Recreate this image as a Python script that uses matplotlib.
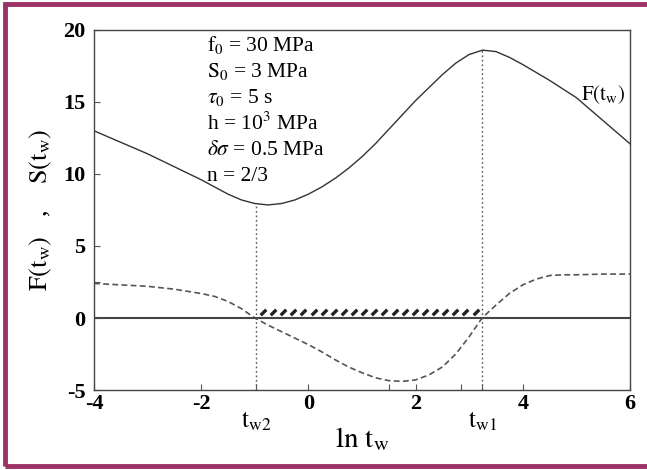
import numpy as np
import matplotlib
matplotlib.use("Agg")
import matplotlib.pyplot as plt
from matplotlib.patches import Rectangle

plt.rcParams['font.family'] = ['Liberation Serif', 'DejaVu Serif']
plt.rcParams['mathtext.fontset'] = 'stix'
plt.rcParams['axes.unicode_minus'] = False

# ---- data ----
x_F = [-4, -3.5, -3, -2.5, -2, -1.75, -1.5, -1.25, -1, -0.75, -0.5, -0.25, 0, 0.25, 0.5, 0.75,
       1, 1.25, 1.5, 1.75, 2, 2.25, 2.5, 2.75, 3, 3.25, 3.5, 3.75, 4, 4.5, 5, 5.5, 6]
F_vals = [13.0, 12.2, 11.4, 10.5, 9.6, 9.1, 8.6, 8.2, 7.95, 7.85, 7.95, 8.2, 8.6, 9.1, 9.7, 10.4,
          11.2, 12.1, 13.1, 14.1, 15.1, 16.0, 16.9, 17.7, 18.3, 18.6, 18.5, 18.1, 17.6, 16.5, 15.3, 13.7, 12.1]

x_S = [-4, -3.5, -3, -2.5, -2, -1.75, -1.5, -1.25, -1, -0.75, -0.5, -0.25, 0, 0.25, 0.5, 0.75,
       1, 1.25, 1.5, 1.75, 2, 2.25, 2.5, 2.75, 3, 3.24, 3.5, 3.75, 4, 4.25, 4.5, 4.75, 5, 5.5, 6]
S_vals = [2.4, 2.3, 2.2, 2.0, 1.7, 1.5, 1.15, 0.65, 0.0, -0.5, -0.95, -1.4, -1.85, -2.35, -2.9, -3.4,
          -3.8, -4.15, -4.35, -4.4, -4.3, -3.95, -3.4, -2.5, -1.3, 0.0, 0.9, 1.7, 2.3, 2.7, 2.95, 3.0, 3.0, 3.05, 3.05]

tw2 = -0.97
tw1 = 3.24
F_tw2 = 7.95
F_tw1 = 18.6
n_hatch = 22
hatch_level = 0.4

xticks = [-4, -2, 0, 2, 4, 6]
yticks = [-5, 0, 5, 10, 15, 20]
extra_xticks = [1.5, 2.85]
extra_yticks = [2.5]

params = [r"$\mathrm{f_0}$ = 30 MPa",
          r"$\mathrm{S_0}$ = 3 MPa",
          r"$\tau_0$ = 5 s",
          r"h = 10$^3$ MPa",
          r"$\delta\sigma$ = 0.5 MPa",
          r"n = 2/3"]

# ---- figure ----
fig = plt.figure(figsize=(6.47, 4.70), dpi=100)
fig.patch.set_facecolor('white')
ax = fig.add_axes([0.1453, 0.1702, 0.8284, 0.766])

ax.plot(x_F, F_vals, color='#333333', lw=1.0)
ax.plot(x_S, S_vals, color='#555555', lw=1.2, ls=(0, (3.5, 2)))
ax.axhline(0, color='#444444', lw=1.5)
ax.plot([tw2, tw2], [-5, F_tw2], color='#555555', lw=1.0, ls=(0, (1.2, 2)))
ax.plot([tw1, tw1], [-5, F_tw1], color='#555555', lw=1.0, ls=(0, (1.2, 2)))

hx = np.linspace(tw2 + 0.12, tw1 - 0.12, n_hatch)
ax.plot(hx, np.full_like(hx, hatch_level), ls='none', marker=[(-1, -1), (1, 1)],
        markersize=4, markeredgewidth=2.4, color='#222222')

ax.set_xlim(-4, 6)
ax.set_ylim(-5, 20)
ax.set_xticks(xticks)
ax.set_yticks(yticks)
ax.set_xticks(extra_xticks + [tw2, tw1], minor=True)
ax.set_yticks(extra_yticks, minor=True)
ax.tick_params(which='both', direction='in', length=4, width=0.8, color='#555555')
ax.tick_params(axis='x', which='major', labelsize=16, pad=3)
ax.tick_params(axis='y', which='major', labelsize=16, pad=6)
for lab in ax.get_xticklabels() + ax.get_yticklabels():
    lab.set_fontweight('bold')
for s in ax.spines.values():
    s.set_color('#444444')
    s.set_linewidth(1.0)

ax.text(tw2, -7.2, r"$\mathrm{t_{w2}}$", ha='center', va='center', fontsize=18)
ax.text(tw1, -7.2, r"$\mathrm{t_{w1}}$", ha='center', va='center', fontsize=18)
ax.set_xlabel(r"$\mathrm{ln\ t_w}$", fontsize=21, labelpad=8)
ax.set_ylabel(r"$\mathrm{F(t_w)}$   ,    $\mathrm{S(t_w)}$", fontsize=19, labelpad=7)

ax.text(5.5, 15.5, r"$\mathrm{F(t_w)}$", ha='center', va='center', fontsize=15)

for i, p in enumerate(params):
    ax.text(-1.9, 18.95 - i * 1.83, p, ha='left', va='center', fontsize=15.5)

# purple frame
fig.patches.append(Rectangle((5 / 647, 4 / 470), 1.2, 1 - 8 / 470, transform=fig.transFigure,
                             fill=False, edgecolor='#9b3366', linewidth=3.5))

fig.savefig('out.png', dpi=100)
